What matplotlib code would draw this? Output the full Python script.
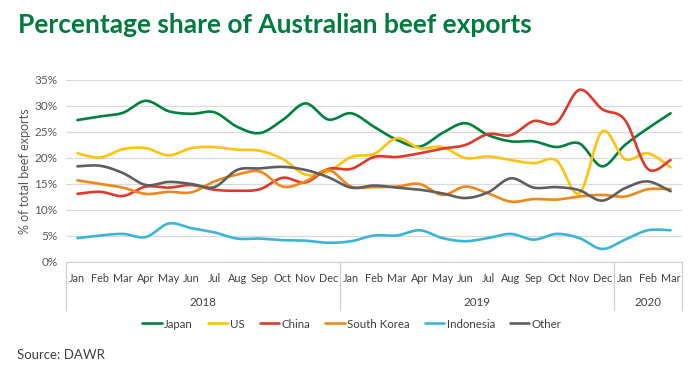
import numpy as np
import matplotlib
matplotlib.use("Agg")
import matplotlib.pyplot as plt
import matplotlib.transforms as mtransforms

plt.rcParams["font.family"] = ["Lato", "DejaVu Sans"]

months = ["Jan", "Feb", "Mar", "Apr", "May", "Jun", "Jul", "Aug", "Sep", "Oct", "Nov", "Dec"] * 2 + ["Jan", "Feb", "Mar"]
years = ["2018", "2019", "2020"]
year_lengths = [12, 12, 3]

japan = [27.3, 28.0, 28.7, 31.0, 29.0, 28.5, 28.8, 26.0, 24.8, 27.3, 30.5, 27.4,
         28.6, 26.0, 23.5, 22.2, 24.8, 26.7, 24.4, 23.2, 23.2, 22.1, 22.8, 18.4,
         22.5, 25.7, 28.6]
us = [20.9, 20.1, 21.7, 21.9, 20.5, 21.9, 22.1, 21.6, 21.4, 19.8, 16.8, 17.4,
      20.2, 20.8, 23.8, 21.9, 22.1, 20.0, 20.3, 19.6, 19.0, 19.5, 13.2, 25.1,
      19.8, 20.9, 18.2]
china = [13.1, 13.5, 12.7, 14.5, 14.3, 14.8, 13.9, 13.7, 14.0, 16.2, 15.3, 17.9,
         17.9, 20.2, 20.2, 20.9, 21.8, 22.5, 24.6, 24.4, 27.1, 26.8, 33.1, 29.4,
         27.3, 17.9, 19.6]
south_korea = [15.7, 15.0, 14.3, 13.1, 13.5, 13.4, 15.5, 16.8, 17.4, 14.5, 15.5, 17.7,
               14.5, 14.4, 14.5, 15.0, 12.9, 14.5, 13.2, 11.6, 12.1, 12.0, 12.6, 12.9,
               12.6, 14.0, 14.0]
indonesia = [4.6, 5.1, 5.4, 4.8, 7.4, 6.5, 5.7, 4.5, 4.5, 4.2, 4.1, 3.7,
             4.0, 5.1, 5.1, 6.1, 4.6, 4.0, 4.6, 5.4, 4.3, 5.4, 4.6, 2.5,
             4.3, 6.1, 6.1]
other = [18.4, 18.5, 17.1, 14.8, 15.4, 15.0, 14.4, 17.7, 18.0, 18.3, 17.7, 16.3,
         14.3, 14.7, 14.3, 13.9, 13.2, 12.3, 13.4, 16.1, 14.3, 14.4, 13.8, 11.8,
         14.2, 15.5, 13.6]

series = [("Japan", japan, "#00803F"),
          ("US", us, "#FFC20E"),
          ("China", china, "#DD3A2C"),
          ("South Korea", south_korea, "#F0871A"),
          ("Indonesia", indonesia, "#3BB5D6"),
          ("Other", other, "#5F5F5F")]


def smooth(y, n=20):
    # excel-ish smoothed line: bezier through points, control pts from neighbours
    y = np.asarray(y, dtype=float)
    x = np.arange(len(y), dtype=float)
    xs, ys = [], []
    t = np.linspace(0, 1, n, endpoint=False)
    for i in range(len(y) - 1):
        p0 = np.array([x[i], y[i]])
        p3 = np.array([x[i + 1], y[i + 1]])
        prev = np.array([x[i - 1], y[i - 1]]) if i > 0 else p0
        nxt = np.array([x[i + 2], y[i + 2]]) if i + 2 < len(y) else p3
        p1 = p0 + (p3 - prev) / 6.0
        p2 = p3 - (nxt - p0) / 6.0
        pts = ((1 - t) ** 3)[:, None] * p0 + (3 * (1 - t) ** 2 * t)[:, None] * p1 \
            + (3 * (1 - t) * t ** 2)[:, None] * p2 + (t ** 3)[:, None] * p3
        xs.extend(pts[:, 0])
        ys.extend(pts[:, 1])
    xs.append(x[-1])
    ys.append(y[-1])
    return xs, ys


fig = plt.figure(figsize=(7, 3.73), dpi=100)
ax = fig.add_axes([66 / 700, 1 - 262 / 373, 616 / 700, 182 / 373])

for name, vals, col in series:
    sx, sy = smooth(vals)
    ax.plot(sx, sy, color=col, lw=1.9, label=name, solid_capstyle="round")

ax.set_xlim(-0.5, len(months) - 0.5)
ax.set_ylim(0, 35)
ax.set_yticks(range(0, 36, 5))
ax.set_yticklabels([f"{v}%" for v in range(0, 36, 5)], fontsize=8.5, color="#595959")
ax.yaxis.grid(True, color="#D9D9D9", lw=0.9)
ax.set_axisbelow(True)
ax.tick_params(axis="y", length=0, pad=6)

ax.set_xticks(range(len(months)))
ax.set_xticklabels(months, fontsize=7.8, color="#404040")
ax.tick_params(axis="x", length=0, pad=8)

for s in ["top", "right", "left"]:
    ax.spines[s].set_visible(False)
ax.spines["bottom"].set_color("#D0D0D0")

# year grouping under the months
trans = mtransforms.blended_transform_factory(ax.transData, ax.transAxes)
edges = np.concatenate([[0], np.cumsum(year_lengths)]) - 0.5
for e in edges:
    ax.plot([e, e], [0, -0.265], transform=trans, color="#D0D0D0", lw=0.9, clip_on=False)
for i, yr in enumerate(years):
    ax.text((edges[i] + edges[i + 1]) / 2, -0.22, yr, transform=trans,
            ha="center", va="center", fontsize=8.3, color="#404040")

fig.text(25 / 700, 1 - 171 / 373, "% of total beef exports", rotation=90,
         ha="center", va="center", fontsize=9, color="#595959")

fig.text(18 / 700, 1 - 33 / 373, "Percentage share of Australian beef exports",
         fontsize=19, fontweight="bold", color="#007A3D", va="baseline")

fig.legend(loc="center", bbox_to_anchor=(352 / 700, 1 - 324 / 373), ncol=6,
           frameon=False, fontsize=8.3, handlelength=1.7, handletextpad=0.2,
           columnspacing=1.3, labelcolor="#404040")

fig.text(17 / 700, 1 - 355 / 373, "Source: DAWR", fontsize=9.5, color="#404040", va="center")

fig.savefig("out.png", dpi=100)
